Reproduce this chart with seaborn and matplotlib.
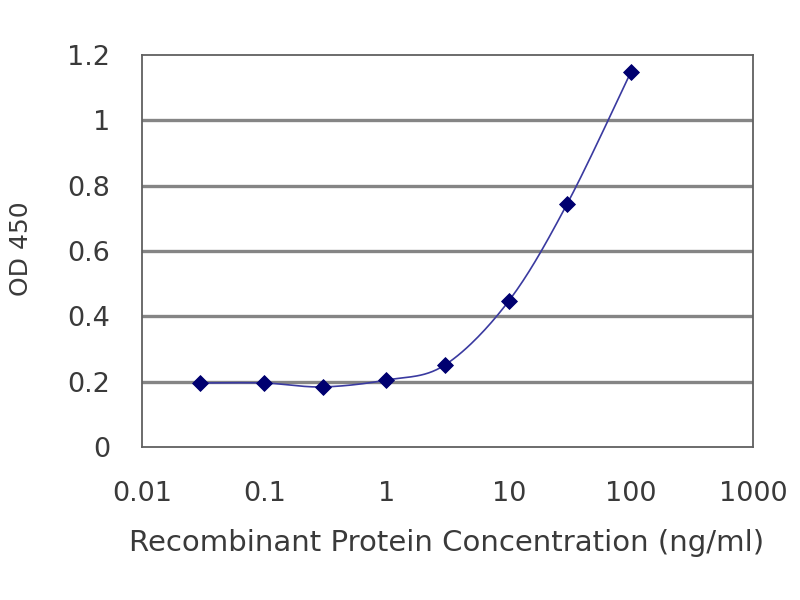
import numpy as np
import pandas as pd
import matplotlib
matplotlib.use("Agg")
import matplotlib.pyplot as plt
import seaborn as sns

# readings
conc = [0.03, 0.1, 0.3, 1, 3, 10, 30, 100]
od450 = [0.196, 0.196, 0.184, 0.205, 0.251, 0.447, 0.744, 1.149]
xticks = [0.01, 0.1, 1, 10, 100, 1000]
xticklabels = ["0.01", "0.1", "1", "10", "100", "1000"]
yticks = [0, 0.2, 0.4, 0.6, 0.8, 1, 1.2]
yticklabels = ["0", "0.2", "0.4", "0.6", "0.8", "1", "1.2"]


def smooth(x, y, n=30):
    # catmull-rom through the points in log-x space, like a spreadsheet "smoothed line"
    lx = np.log10(x)
    y = np.asarray(y, float)
    P = np.column_stack([lx, y])
    P = np.vstack([P[0], P, P[-1]])
    out = []
    for i in range(1, len(P) - 2):
        p0, p1, p2, p3 = P[i - 1], P[i], P[i + 1], P[i + 2]
        t = np.linspace(0, 1, n)[:, None]
        seg = 0.5 * ((2 * p1) + (-p0 + p2) * t + (2 * p0 - 5 * p1 + 4 * p2 - p3) * t**2
                     + (-p0 + 3 * p1 - 3 * p2 + p3) * t**3)
        out.append(seg)
    out = np.vstack(out)
    return 10 ** out[:, 0], out[:, 1]


df = pd.DataFrame({"conc": conc, "od": od450})
sx, sy = smooth(conc, od450)
curve = pd.DataFrame({"conc": sx, "od": sy})

sns.set_style("white")
plt.rcParams["font.family"] = ["DejaVu Sans"]

fig = plt.figure(figsize=(8, 6), dpi=100)
ax = fig.add_axes([0.1775, 0.255, 0.764, 0.653])

for v in yticks[1:-1]:
    ax.axhline(v, color="#858585", lw=2.4, zorder=1)

sns.lineplot(data=curve, x="conc", y="od", ax=ax, color="#3a3aa0", lw=1.2,
             sort=False, zorder=2)
sns.scatterplot(data=df, x="conc", y="od", ax=ax, marker="D", s=65,
                color="#000070", edgecolor="#000070", zorder=3)

ax.set_xscale("log")
ax.set_xlim(0.01, 1000)
ax.set_ylim(0, 1.2)
ax.set_xticks(xticks)
ax.set_xticklabels(xticklabels)
ax.set_yticks(yticks)
ax.set_yticklabels(yticklabels)
ax.minorticks_off()
ax.tick_params(axis="x", direction="inout", length=7, width=1, color="#555555",
               labelsize=19.5, labelcolor="#3a3a3a", pad=21)
ax.tick_params(axis="y", length=0, labelsize=19.5, labelcolor="#3a3a3a", pad=23)

for s in ax.spines.values():
    s.set_color("#606060")
    s.set_linewidth(1.3)

ax.set_xlabel("Recombinant Protein Concentration (ng/ml)", fontsize=21,
              color="#3a3a3a", va="center")
ax.xaxis.set_label_coords(0.4975, -0.245)
ax.set_ylabel("OD 450", fontsize=18, color="#3a3a3a", va="center")
ax.yaxis.set_label_coords(-0.198, 0.505)

fig.savefig("out.png", dpi=100, facecolor="white")
